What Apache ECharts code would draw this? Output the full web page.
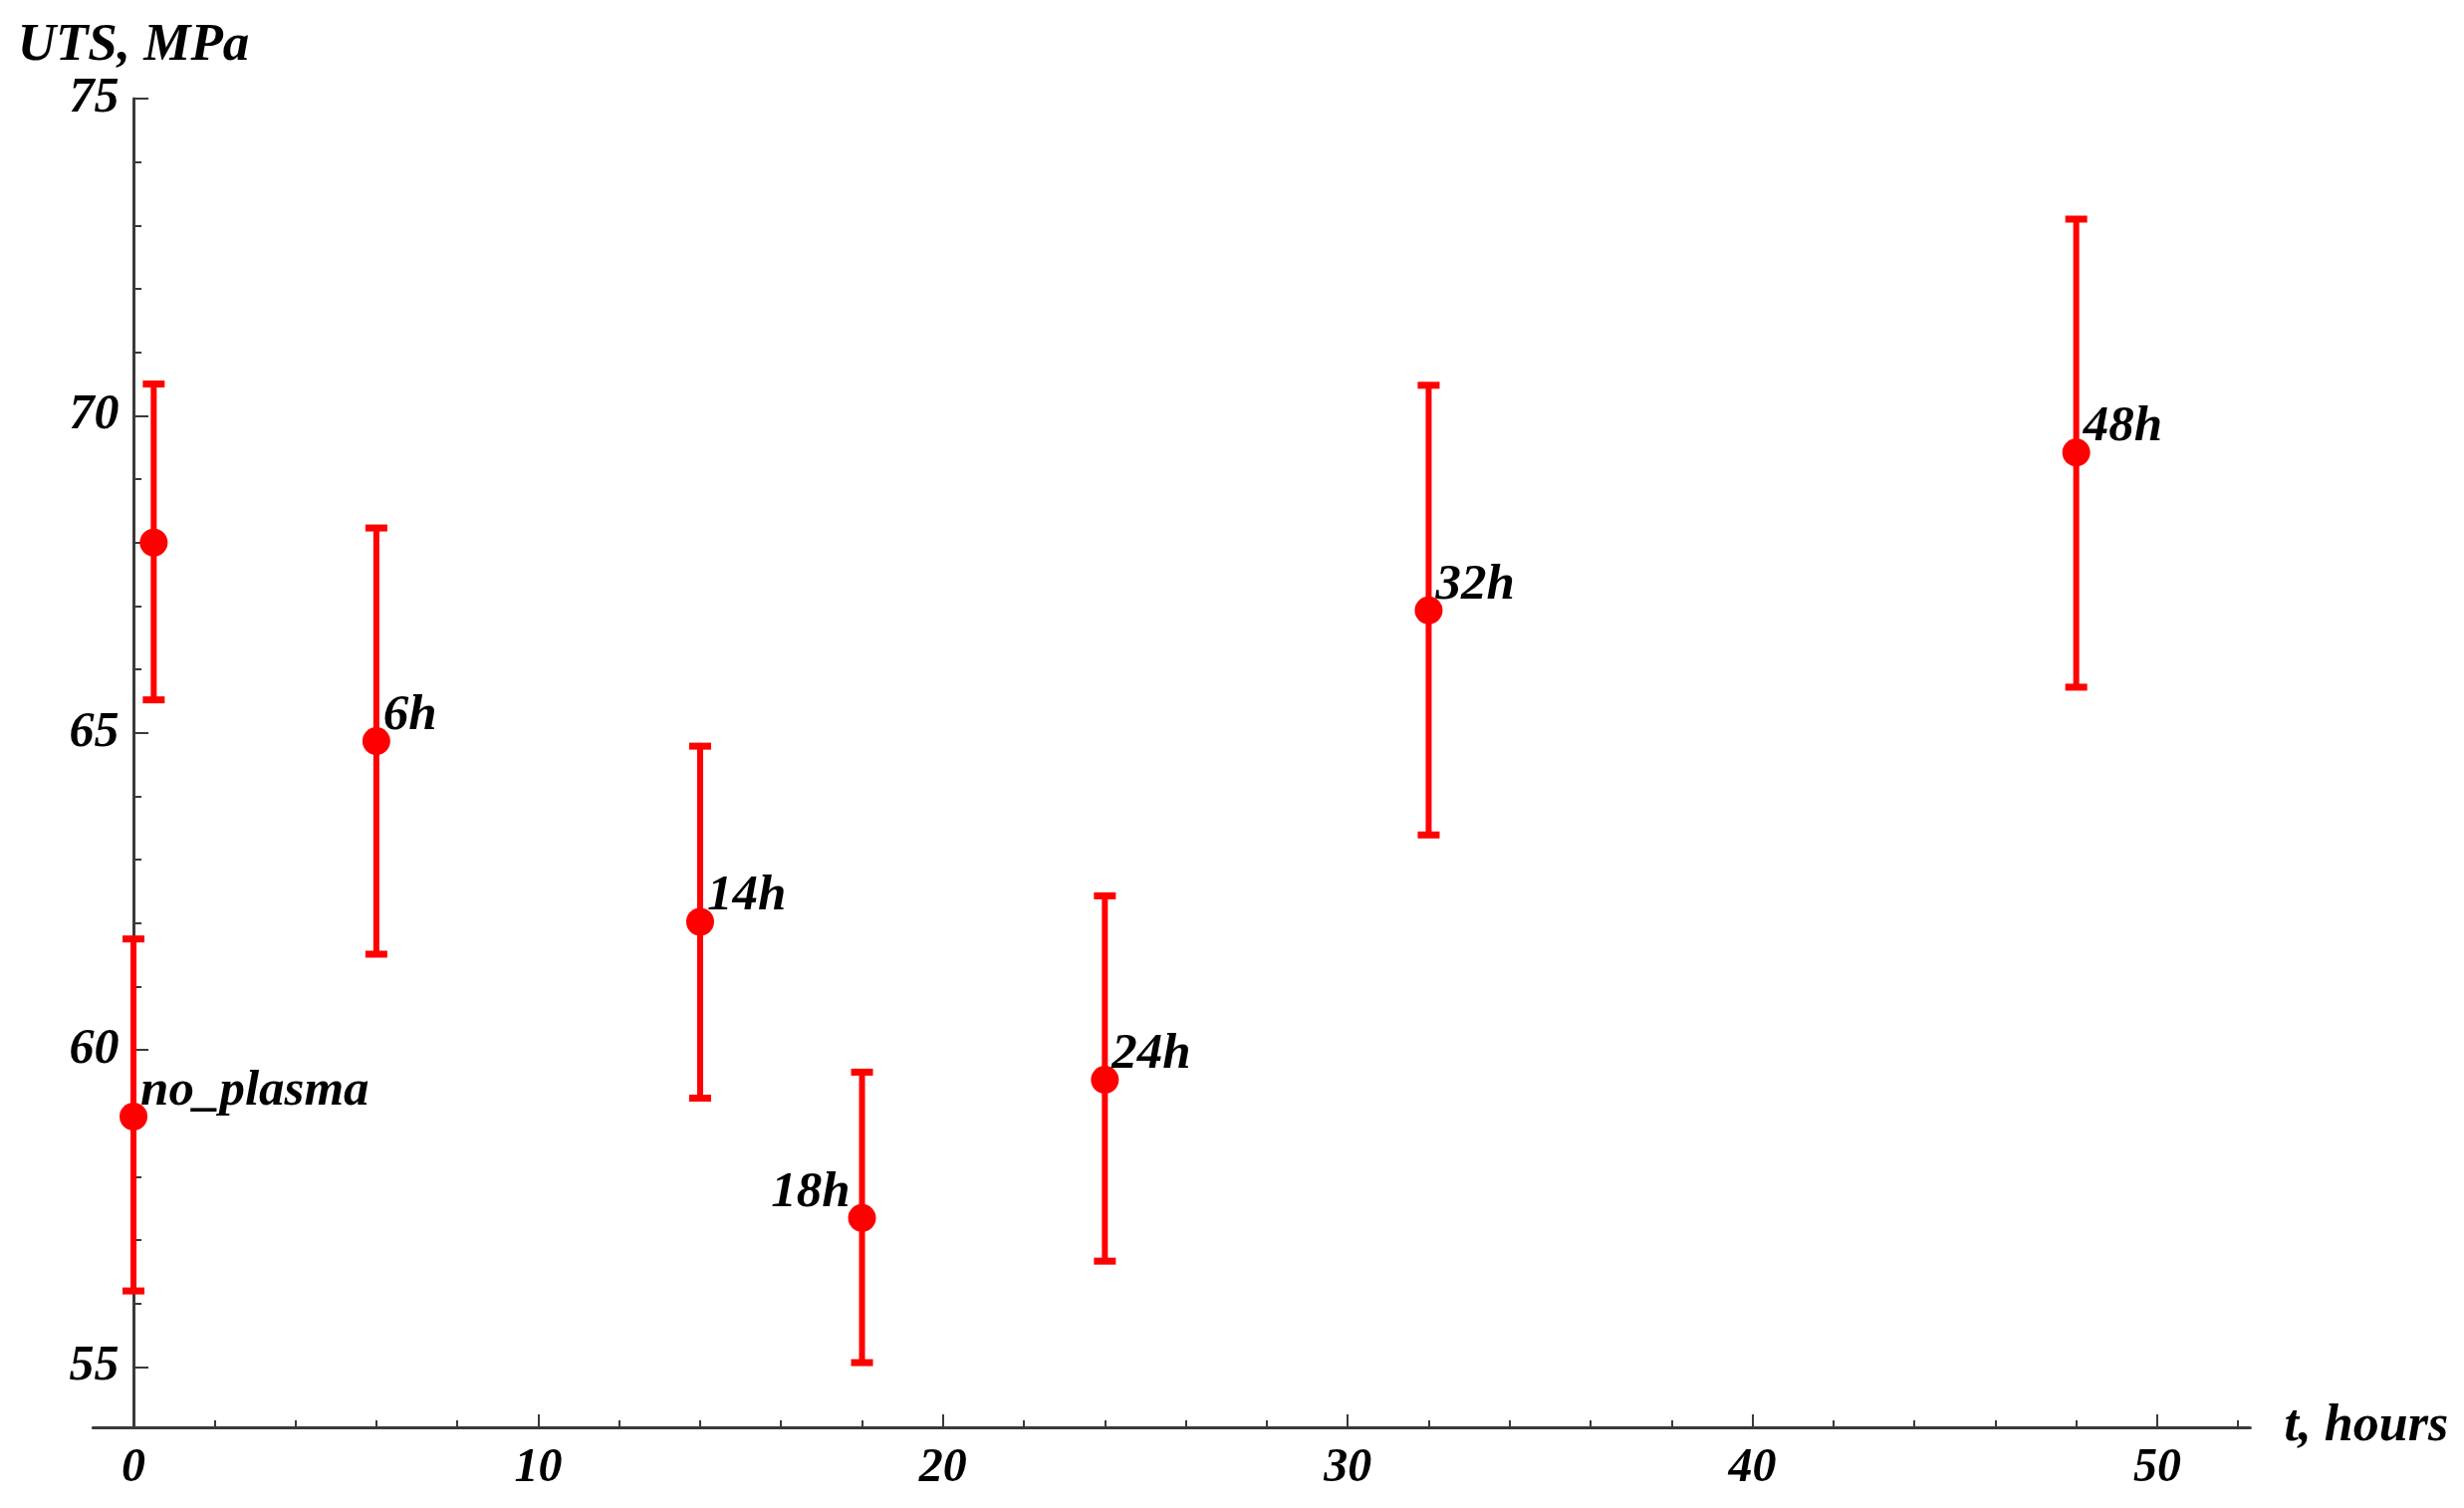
<!DOCTYPE html>
<html>
<head>
<meta charset="utf-8">
<style>
  html, body { margin: 0; padding: 0; background: #ffffff; }
  #chart { width: 2474px; height: 1514px; }
</style>
<script src="https://cdn.jsdelivr.net/npm/echarts@6/dist/echarts.min.js"></script>
</head>
<body>
<div id="chart"></div>
<script>
// ---- data ----
const hours   = [0, 0.5, 6, 14, 18, 24, 32, 48];
const uts     = [58.95, 68.0, 64.87, 62.02, 57.35, 59.53, 66.93, 69.42];
const utsHigh = [61.75, 70.5, 68.23, 64.79, 59.65, 62.43, 70.48, 73.1];
const utsLow  = [56.2, 65.52, 61.51, 59.24, 55.07, 56.67, 63.39, 65.72];
const pointLabels = ['no_plasma', '', '6h', '14h', '18h', '24h', '32h', '48h'];

const xMajorTicks = [0, 10, 20, 30, 40, 50];
const xMinorTicks = [2, 4, 6, 8, 12, 14, 16, 18, 22, 24, 26, 28, 32, 34, 36, 38, 42, 44, 46, 48, 52];
const yMajorTicks = [55, 60, 65, 70, 75];
const yMinorTicks = [56, 57, 58, 59, 61, 62, 63, 64, 66, 67, 68, 69, 71, 72, 73, 74];

const xAxisName = 't, hours';
const yAxisName = 'UTS, MPa';

// ---- styling ----
const FONT = '"Liberation Serif", "DejaVu Serif", serif';
const RED = '#ff0000';
const AXIS = '#3a3a3a';
const X_MIN = -1, X_MAX = 52.3, Y_MIN = 54.05, Y_MAX = 75;

const textBase = { fontFamily: FONT, fontWeight: 'bold', fontStyle: 'italic', color: '#000000' };

const pointData = hours.map((h, i) => {
  const leftSide = pointLabels[i] === '18h';
  return {
    value: [h, uts[i]],
    name: pointLabels[i],
    label: leftSide
      ? { position: [2, 14], align: 'right', verticalAlign: 'bottom' }
      : { position: [21, 14], align: 'left', verticalAlign: 'bottom' }
  };
});
const barData = hours.map((h, i) => [h, utsLow[i], utsHigh[i]]);

const chart = echarts.init(document.getElementById('chart'), null, { renderer: 'canvas' });

const option = {
  backgroundColor: '#ffffff',
  animation: false,
  grid: { left: 93.4, right: 214.6, top: 99, bottom: 81, containLabel: false },
  xAxis: [
    {
      type: 'value', position: 'bottom', min: X_MIN, max: X_MAX,
      name: xAxisName, nameLocation: 'end', nameGap: 34,
      nameTextStyle: Object.assign({}, textBase, { fontSize: 52, verticalAlign: 'middle', align: 'left' }),
      axisLine: { show: true, onZero: false, lineStyle: { color: AXIS, width: 3 } },
      axisTick: { show: true, inside: true, length: 13, lineStyle: { color: AXIS, width: 2 }, customValues: xMajorTicks },
      axisLabel: Object.assign({}, textBase, { fontSize: 48, margin: 18, customValues: xMajorTicks }),
      splitLine: { show: false }
    },
    {
      type: 'value', position: 'bottom', min: X_MIN, max: X_MAX,
      axisLine: { show: false, onZero: false },
      axisTick: { show: true, inside: true, length: 7, lineStyle: { color: AXIS, width: 2 }, customValues: xMinorTicks },
      axisLabel: { show: false },
      splitLine: { show: false }
    }
  ],
  yAxis: [
    {
      type: 'value', position: 'left', min: Y_MIN, max: Y_MAX,
      name: yAxisName, nameLocation: 'end', nameGap: 26,
      nameTextStyle: Object.assign({}, textBase, { fontSize: 53, align: 'center' }),
      axisLine: { show: true, onZero: true, onZeroAxisIndex: 0, lineStyle: { color: AXIS, width: 3 } },
      axisTick: { show: true, inside: true, length: 15, lineStyle: { color: AXIS, width: 2 }, customValues: yMajorTicks },
      axisLabel: Object.assign({}, textBase, { fontSize: 50, margin: -26, customValues: yMajorTicks }),
      splitLine: { show: false }
    },
    {
      type: 'value', position: 'left', min: Y_MIN, max: Y_MAX,
      axisLine: { show: false, onZero: true, onZeroAxisIndex: 0 },
      axisTick: { show: true, inside: true, length: 8, lineStyle: { color: AXIS, width: 2 }, customValues: yMinorTicks },
      axisLabel: { show: false },
      splitLine: { show: false }
    }
  ],
  series: [
    {
      type: 'custom',
      name: 'error bars',
      xAxisIndex: 0, yAxisIndex: 0,
      z: 3,
      data: barData,
      encode: { x: 0, y: [1, 2] },
      renderItem: function (params, api) {
        const x = api.value(0);
        const lo = api.coord([x, api.value(1)]);
        const hi = api.coord([x, api.value(2)]);
        const half = 11;
        const st = { stroke: RED, lineWidth: 6 };
        const capSt = { stroke: RED, lineWidth: 7 };
        return {
          type: 'group',
          children: [
            { type: 'line', shape: { x1: lo[0], y1: lo[1], x2: hi[0], y2: hi[1] }, style: st },
            { type: 'line', shape: { x1: hi[0] - half, y1: hi[1], x2: hi[0] + half, y2: hi[1] }, style: capSt },
            { type: 'line', shape: { x1: lo[0] - half, y1: lo[1], x2: lo[0] + half, y2: lo[1] }, style: capSt }
          ]
        };
      }
    },
    {
      type: 'scatter',
      name: 'UTS',
      xAxisIndex: 0, yAxisIndex: 0,
      z: 4,
      symbol: 'circle',
      symbolSize: 28,
      itemStyle: { color: RED, opacity: 1 },
      label: Object.assign({}, textBase, {
        show: true, fontSize: 51, opacity: 1,
        formatter: p => p.name
      }),
      emphasis: { disabled: true },
      data: pointData
    }
  ]
};

chart.setOption(option);
</script>
</body>
</html>
